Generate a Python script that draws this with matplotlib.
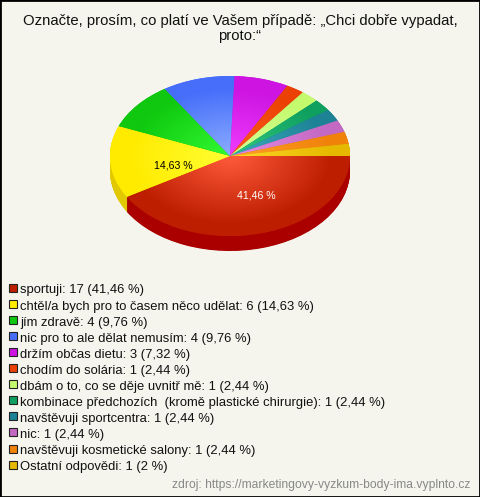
import numpy as np
import matplotlib
matplotlib.use("Agg")
import matplotlib.pyplot as plt
from matplotlib.colors import LinearSegmentedColormap
from matplotlib.patches import Rectangle

W, H = 480, 497
BG = "#F5F5EE"

title = "Označte, prosím, co platí ve Vašem případě: „Chci dobře vypadat,\nproto:“"
source = "zdroj: https://marketingovy-vyzkum-body-ima.vyplnto.cz"

categories = ["sportuji", "chtěl/a bych pro to časem něco udělat", "jím zdravě",
              "nic pro to ale dělat nemusím", "držím občas dietu", "chodím do solária",
              "dbám o to, co se děje uvnitř mě",
              "kombinace předchozích  (kromě plastické chirurgie)",
              "navštěvuji sportcentra", "nic", "navštěvuji kosmetické salony",
              "Ostatní odpovědi"]
values = [17, 6, 4, 4, 3, 1, 1, 1, 1, 1, 1, 1]
percent_labels = ["41,46 %", "14,63 %", "9,76 %", "9,76 %", "7,32 %", "2,44 %", "2,44 %",
                  "2,44 %", "2,44 %", "2,44 %", "2,44 %", "2 %"]
outer_colors = ["#BE1E00", "#FFEB00", "#0FC80F", "#466EFA", "#CD14E1", "#EB4105",
                "#C3FA6E", "#0FA05F", "#1E8296", "#C369C3", "#F0820A", "#E6B900"]
inner_colors = ["#FF5A3C", "#FFFF32", "#32FA32", "#8CADFF", "#F03CFF", "#FF5A1E",
                "#D7FF96", "#32C882", "#3CAABE", "#E68CE6", "#FFA028", "#FFD728"]
side_colors = ["#AA0000", "#E1C800", "#0BA00B", "#3858C8", "#A410B4", "#BC3404",
               "#9CC858", "#0C804C", "#186878", "#9C549C", "#C06808", "#B89400"]

CX, CY, RX, RY, DEPTH = 230, 156, 120, 80, 15

fig = plt.figure(figsize=(W / 100, H / 100), dpi=100, facecolor=BG)
ax = fig.add_axes([0, 0, 1, 1])
fontfam = "Liberation Sans"

# wall: stacked pies offset downward
for d in np.arange(DEPTH, 0, -0.5):
    ax.pie(values, colors=side_colors, startangle=0, counterclock=False, radius=1,
           center=(0, -d / RY), wedgeprops=dict(linewidth=0))

wedges, _ = ax.pie(values, colors=outer_colors, startangle=0, counterclock=False, radius=1,
                   center=(0, 0), wedgeprops=dict(linewidth=0))

# radial gradient on each slice
g = np.linspace(-1, 1, 400)
xx, yy = np.meshgrid(g, g)
rr = np.hypot(xx, yy)
for w, c0, c1 in zip(wedges, inner_colors, outer_colors):
    cmap = LinearSegmentedColormap.from_list("g", [c0, c1])
    im = ax.imshow(rr, extent=(-1, 1, -1, 1), cmap=cmap, vmin=0, vmax=0.85, aspect="auto",
                   origin="lower", zorder=w.get_zorder() + 0.5, interpolation="bilinear")
    im.set_clip_path(w)

ax.set_aspect("auto")
ax.set_xlim(-CX / RX, (W - CX) / RX)
ax.set_ylim((CY - H) / RY, CY / RY)
ax.axis("off")


def px(x, y):
    return x / W, 1 - y / H


# data labels on the two largest slices
ax.text((256 - CX) / RX, (CY - 196) / RY, percent_labels[0], color="white", fontsize=7.6,
        family=fontfam, ha="center", va="center", zorder=10)
ax.text((173 - CX) / RX, (CY - 165) / RY, percent_labels[1], color="black", fontsize=7.6,
        family=fontfam, ha="center", va="center", zorder=10)

# title
fig.text(*px(240, 28.5), title, ha="center", va="center", fontsize=10.7, family=fontfam,
         color="#111111", linespacing=1.12)

# legend
for i, (c, v, p) in enumerate(zip(categories, values, percent_labels)):
    y = 290.5 + i * 16.05
    fig.add_artist(Rectangle(px(9, y + 1.5), 8 / W, 8 / H, transform=fig.transFigure,
                             facecolor=outer_colors[i], edgecolor="#222222", linewidth=0.8))
    fig.text(*px(20.5, y), f"{c}: {v} ({p})", ha="left", va="center", fontsize=9.4,
             family=fontfam, color="#111111")

fig.text(*px(470, 485), source, ha="right", va="center", fontsize=8.75, family=fontfam,
         color="#888888")

# frame
fig.add_artist(Rectangle((0, 0), 1, 1, transform=fig.transFigure, fill=False,
                         edgecolor="black", linewidth=2))

fig.savefig("out.png", dpi=100, facecolor=BG)
